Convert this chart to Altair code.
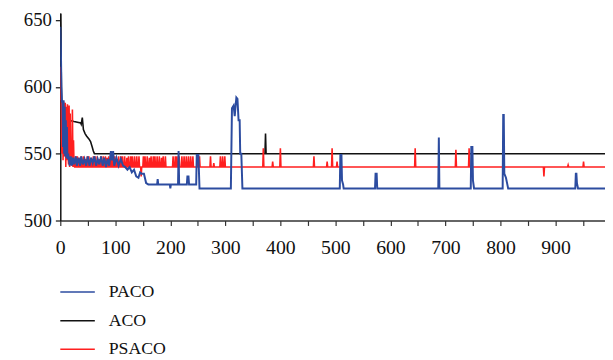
import altair as alt
import pandas as pd

# ---------------- data ----------------
series_names = ["PACO", "ACO", "PSACO"]
series_colors = ["#2C4CA0", "#111111", "#FF1F1F"]

paco_iter = [0, 1, 2, 3, 4, 5, 6, 7, 8, 9, 10, 11, 12, 13, 15, 17, 19, 21, 23, 25, 28, 30, 33, 36,
             38, 41, 44, 47, 50, 53, 56, 59, 62, 65, 68, 71, 74, 77, 80, 83, 86, 89, 92, 94, 96,
             98, 102, 106, 110, 114, 118, 122, 126, 130, 134, 138, 142, 145, 148, 152, 156, 160,
             176, 177, 178, 199, 200, 201, 214, 215, 216, 230, 231, 233, 234, 247, 248, 251, 253,
             310, 312, 315, 317, 320, 322, 324, 326, 327, 329, 331, 508, 509, 511, 512, 514, 515,
             572, 573, 575, 576, 687, 688, 689, 746, 747, 749, 750, 752, 804, 805, 806, 807, 810,
             812, 814, 936, 937, 938, 939, 941, 990]
paco_cost = [645, 630, 600, 589, 588, 555, 590, 550, 585, 548, 575, 547, 570, 546, 548, 541, 548,
             541, 547, 542, 548, 541, 547, 541, 548, 542, 546, 541, 548, 541, 547, 543, 548, 541,
             546, 542, 548, 541, 547, 540, 546, 541, 552, 545, 552, 541, 547, 541, 546, 541, 540,
             538, 540, 536, 538, 533, 532, 536, 535, 535, 528, 527, 527, 531, 527, 527, 524, 527,
             527, 552, 527, 527, 533, 533, 527, 527, 549, 549, 524, 524, 584, 586, 578, 592, 591,
             575, 575, 550, 550, 524, 524, 549, 549, 530, 527, 524, 524, 535, 535, 524, 524, 562,
             524, 524, 555, 555, 530, 524, 524, 579, 579, 535, 532, 528, 524, 524, 535, 535, 528,
             524, 524]

aco_iter = [0, 1, 2, 3, 15, 25, 37, 38, 40, 42, 45, 48, 52, 55, 58, 60, 62, 372, 373, 374, 990]
aco_cost = [662, 640, 600, 576, 575, 574, 573, 572, 577, 568, 565, 563, 561, 559, 555, 552, 550,
            550, 565, 550, 550]

psaco_early_iter = [0, 1, 2, 3, 4, 5, 6, 7, 8, 9, 10, 11, 12, 13, 14, 15, 16, 17, 18, 19, 20, 21,
                    22, 23, 24, 25, 26]
psaco_early_cost = [590, 615, 560, 550, 588, 545, 589, 548, 550, 588, 540, 585, 545, 587, 548, 542,
                    586, 540, 580, 545, 560, 541, 583, 540, 560, 541, 540]
psaco_base = 540
psaco_end = 990
psaco_spike_iter = [28, 31, 35, 38, 42, 46, 49, 52, 56, 60, 63, 67, 71, 74, 78, 82, 85, 88, 92, 95,
                    99, 103, 106, 110, 113, 117, 121, 124, 128, 131, 135, 139, 143, 147, 151, 154,
                    158, 162, 165, 169, 172, 176, 180, 184, 187, 191, 205, 209, 212, 216, 221, 225,
                    229, 233, 237, 241, 249, 253, 273, 279, 291, 295, 299, 369, 386, 400, 461, 485,
                    494, 503, 645, 719, 743, 879, 923, 951]
psaco_spike_cost = [548, 548, 547, 548, 548, 546, 548, 548, 547, 548, 548, 548, 546, 548, 548, 548,
                    547, 548, 548, 548, 548, 546, 548, 548, 548, 548, 547, 548, 548, 548, 548, 548,
                    548, 533, 548, 548, 548, 547, 548, 548, 548, 548, 548, 547, 548, 548, 548, 548,
                    548, 548, 548, 548, 548, 548, 548, 548, 548, 548, 548, 543, 548, 548, 548, 554,
                    544, 554, 548, 544, 554, 544, 554, 553, 554, 533, 541.5, 544]

# ---------------- build tables ----------------
rows = []
for i, c in zip(paco_iter, paco_cost):
    rows.append({"iter": i, "cost": c, "algo": "PACO"})
for i, c in zip(aco_iter, aco_cost):
    rows.append({"iter": i, "cost": c, "algo": "ACO"})
ps = list(zip(psaco_early_iter, psaco_early_cost))
for i, c in zip(psaco_spike_iter, psaco_spike_cost):
    ps += [(i - 1, psaco_base), (i, c), (i + 1, psaco_base)]
ps.append((psaco_end, psaco_base))
for i, c in ps:
    rows.append({"iter": i, "cost": c, "algo": "PSACO"})
df = pd.DataFrame(rows)

FONT = "Liberation Serif, Times New Roman, DejaVu Serif, serif"

x_enc = alt.X(
    "iter:Q",
    scale=alt.Scale(domain=[0, 990], nice=False, zero=False),
    axis=alt.Axis(
        title=None,
        values=list(range(0, 1000, 50)),
        labelExpr="datum.value % 100 == 0 ? datum.label : ''",
        grid=False,
        tickSize=5,
        labelPadding=12,
        labelFontSize=20,
        labelFont=FONT,
        labelColor="#111111",
        domainColor="#333333",
        tickColor="#333333",
        domainWidth=1.5,
        tickWidth=1.2,
        labelFlush=False,
        labelOverlap=False,
    ),
)
y_enc = alt.Y(
    "cost:Q",
    scale=alt.Scale(domain=[500, 655], nice=False, zero=False),
    axis=alt.Axis(
        title=None,
        values=[500, 550, 600, 650],
        grid=False,
        tickSize=5,
        labelPadding=4,
        labelFontSize=19,
        labelFont=FONT,
        labelColor="#111111",
        domainColor="#111111",
        tickColor="#111111",
        domainWidth=1.5,
        tickWidth=1.2,
        labelFlush=False,
    ),
)
color_enc = alt.Color(
    "algo:N",
    scale=alt.Scale(domain=series_names, range=series_colors),
    legend=alt.Legend(
        title=None,
        orient="none",
        legendX=8,
        legendY=273,
        padding=0,
        symbolType="M-2,0H2",
        symbolSize=306,
        symbolStrokeWidth=1.5,
        labelFont=FONT,
        labelFontSize=18,
        labelColor="#111111",
        labelOffset=22,
        rowPadding=10,
    ),
)

def layer(name, width):
    return (
        alt.Chart(df)
        .transform_filter(alt.datum.algo == name)
        .mark_line(clip=True, strokeWidth=width, strokeJoin="miter")
        .encode(x=x_enc, y=y_enc, color=color_enc, order="iter:Q")
    )

chart = (
    alt.layer(layer("ACO", 1.6), layer("PSACO", 1.6), layer("PACO", 2.0))
    .properties(
        width=552,
        height=210,
        autosize=alt.AutoSizeParams(type="none"),
        padding={"left": 53, "top": 3, "right": 0, "bottom": 139},
    )
    .configure_view(stroke=None)
)

chart.save("out.html", embed_options={"renderer": "svg", "actions": False})
